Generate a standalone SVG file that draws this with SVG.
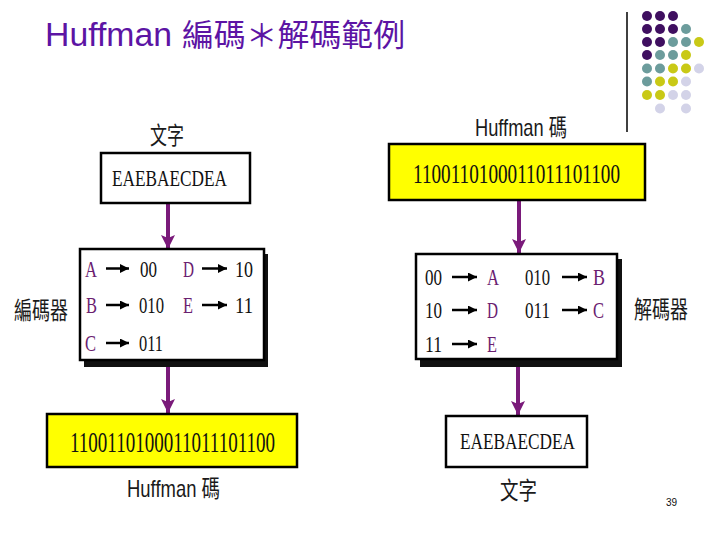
<svg xmlns="http://www.w3.org/2000/svg" width="720" height="540" viewBox="0 0 720 540">
<style>
.title{font-family:"Liberation Sans","Noto Sans CJK TC",sans-serif;fill:#5C14A4}
.lbl{font-family:"Liberation Sans","Noto Sans CJK TC",sans-serif;fill:#1a1a1a;font-size:24px}
.ser{font-family:"Liberation Serif","Noto Sans CJK TC",serif;fill:#111}
.pl{fill:#6A2070}
.box{fill:#fff;stroke:#000;stroke-width:2.5}
.ybox{fill:#FFFF00;stroke:#000;stroke-width:2.5}
.shadow{fill:#111}
.conn{stroke:#7A1A7A;stroke-width:4;fill:none}
.sarr{stroke:#000;stroke-width:2.5;fill:none}
.d1{fill:#3F0F60}.d2{fill:#6C9C9C}.d3{fill:#C9C916}.d4{fill:#D3D3E8}
</style>
<defs>
<marker id="big" markerUnits="userSpaceOnUse" markerWidth="14" markerHeight="14" viewBox="0 0 14 14" refX="14" refY="7" orient="auto">
<path d="M0,0 L14,7 L0,14 L3,7 z" fill="#7A1A7A"/>
</marker>
<marker id="sm" markerUnits="userSpaceOnUse" markerWidth="9" markerHeight="9" viewBox="0 0 9 9" refX="9" refY="4.5" orient="auto">
<path d="M0,0 L9,4.5 L0,9 z" fill="#000"/>
</marker>
</defs>
<rect width="720" height="540" fill="#fff"/>

<g id="title">
<text class="title" x="45" y="46" font-size="33" textLength="127" lengthAdjust="spacingAndGlyphs">Huffman</text>
<text class="title" x="182" y="46" font-size="31" textLength="223" lengthAdjust="spacingAndGlyphs">編碼＊解碼範例</text>
</g>

<g id="decor">
<line x1="627" y1="12" x2="627" y2="132" stroke="#000" stroke-width="1.5"/>
<circle class="d1" cx="647" cy="16" r="5"/><circle class="d1" cx="660" cy="16" r="5"/><circle class="d1" cx="673" cy="16" r="5"/>
<circle class="d1" cx="647" cy="29" r="5"/><circle class="d1" cx="660" cy="29" r="5"/><circle class="d1" cx="673" cy="29" r="5"/><circle class="d2" cx="686" cy="29" r="5"/>
<circle class="d1" cx="647" cy="42" r="5"/><circle class="d1" cx="660" cy="42" r="5"/><circle class="d2" cx="673" cy="42" r="5"/><circle class="d2" cx="686" cy="42" r="5"/><circle class="d3" cx="699" cy="42" r="5"/>
<circle class="d1" cx="647" cy="55" r="5"/><circle class="d2" cx="660" cy="55" r="5"/><circle class="d2" cx="673" cy="55" r="5"/><circle class="d3" cx="686" cy="55" r="5"/>
<circle class="d2" cx="647" cy="68.5" r="5"/><circle class="d2" cx="660" cy="68.5" r="5"/><circle class="d3" cx="673" cy="68.5" r="5"/><circle class="d3" cx="686" cy="68.5" r="5"/><circle class="d4" cx="699" cy="68.5" r="5"/>
<circle class="d2" cx="647" cy="81.5" r="5"/><circle class="d3" cx="660" cy="81.5" r="5"/><circle class="d3" cx="673" cy="81.5" r="5"/><circle class="d4" cx="686" cy="81.5" r="5"/>
<circle class="d3" cx="647" cy="95" r="5"/><circle class="d3" cx="660" cy="95" r="5"/><circle class="d4" cx="673" cy="95" r="5"/><circle class="d4" cx="686" cy="95" r="5"/>
<circle class="d4" cx="660" cy="108.5" r="5"/><circle class="d4" cx="686" cy="108.5" r="5"/>
</g>

<g id="connectors">
<line class="conn" x1="168" y1="203" x2="168" y2="249" marker-end="url(#big)"/>
<line class="conn" x1="168" y1="366" x2="168" y2="413" marker-end="url(#big)"/>
<line class="conn" x1="519" y1="200" x2="519" y2="253" marker-end="url(#big)"/>
<line class="conn" x1="518" y1="366" x2="518" y2="415" marker-end="url(#big)"/>
</g>

<g id="src-text">
<text class="lbl" x="150" y="144" textLength="34" lengthAdjust="spacingAndGlyphs">文字</text>
<rect class="box" x="101" y="153" width="149" height="50"/>
<text class="ser" x="112" y="186" font-size="23" textLength="115" lengthAdjust="spacingAndGlyphs">EAEBAECDEA</text>
</g>

<g id="encoder">
<rect class="shadow" x="84" y="254" width="184" height="113"/>
<rect class="box" x="80" y="249" width="184" height="111"/>
<text class="lbl" x="14" y="319" font-size="20" textLength="54" lengthAdjust="spacingAndGlyphs">編碼器</text>
<g class="ser" font-size="23">
<text class="pl" x="85" y="277" textLength="12" lengthAdjust="spacingAndGlyphs">A</text>
<text x="140" y="277" textLength="17" lengthAdjust="spacingAndGlyphs">00</text>
<text class="pl" x="183" y="277" textLength="11" lengthAdjust="spacingAndGlyphs">D</text>
<text x="235" y="277" textLength="18" lengthAdjust="spacingAndGlyphs">10</text>
<text class="pl" x="86" y="313" textLength="11" lengthAdjust="spacingAndGlyphs">B</text>
<text x="139" y="313" textLength="25" lengthAdjust="spacingAndGlyphs">010</text>
<text class="pl" x="183" y="313" textLength="10" lengthAdjust="spacingAndGlyphs">E</text>
<text x="235" y="313" textLength="18" lengthAdjust="spacingAndGlyphs">11</text>
<text class="pl" x="85" y="351" textLength="11" lengthAdjust="spacingAndGlyphs">C</text>
<text x="139" y="351" textLength="24" lengthAdjust="spacingAndGlyphs">011</text>
</g>
<line class="sarr" x1="106" y1="268.5" x2="129" y2="268.5" marker-end="url(#sm)"/>
<line class="sarr" x1="202" y1="268.5" x2="227" y2="268.5" marker-end="url(#sm)"/>
<line class="sarr" x1="106" y1="305" x2="129" y2="305" marker-end="url(#sm)"/>
<line class="sarr" x1="202" y1="305" x2="227" y2="305" marker-end="url(#sm)"/>
<line class="sarr" x1="106" y1="343" x2="129" y2="343" marker-end="url(#sm)"/>
</g>

<g id="code-left">
<rect class="ybox" x="47" y="414" width="250" height="53"/>
<text class="ser" x="70" y="452" font-size="29" textLength="205" lengthAdjust="spacingAndGlyphs">1100110100011011101100</text>
<text class="lbl" x="127" y="497" font-size="25" textLength="93" lengthAdjust="spacingAndGlyphs">Huffman 碼</text>
</g>

<g id="code-right">
<text class="lbl" x="475" y="136" textLength="92" lengthAdjust="spacingAndGlyphs">Huffman 碼</text>
<rect class="ybox" x="389" y="144" width="256" height="56"/>
<text class="ser" x="413" y="183" font-size="28" textLength="207" lengthAdjust="spacingAndGlyphs">1100110100011011101100</text>
</g>

<g id="decoder">
<rect class="shadow" x="420" y="259" width="202" height="108"/>
<rect class="box" x="416" y="254" width="201" height="105"/>
<text class="lbl" x="634" y="318" font-size="20" textLength="54" lengthAdjust="spacingAndGlyphs">解碼器</text>
<g class="ser" font-size="23">
<text x="425" y="285" textLength="17" lengthAdjust="spacingAndGlyphs">00</text>
<text class="pl" x="487" y="285" textLength="12" lengthAdjust="spacingAndGlyphs">A</text>
<text x="525" y="285" textLength="25" lengthAdjust="spacingAndGlyphs">010</text>
<text class="pl" x="593" y="285" textLength="12" lengthAdjust="spacingAndGlyphs">B</text>
<text x="425" y="318" textLength="17" lengthAdjust="spacingAndGlyphs">10</text>
<text class="pl" x="487" y="318" textLength="11" lengthAdjust="spacingAndGlyphs">D</text>
<text x="525" y="318" textLength="25" lengthAdjust="spacingAndGlyphs">011</text>
<text class="pl" x="593" y="318" textLength="11" lengthAdjust="spacingAndGlyphs">C</text>
<text x="425" y="352" textLength="17" lengthAdjust="spacingAndGlyphs">11</text>
<text class="pl" x="487" y="352" textLength="10" lengthAdjust="spacingAndGlyphs">E</text>
</g>
<line class="sarr" x1="452" y1="277" x2="477" y2="277" marker-end="url(#sm)"/>
<line class="sarr" x1="562" y1="277" x2="587" y2="277" marker-end="url(#sm)"/>
<line class="sarr" x1="452" y1="310" x2="477" y2="310" marker-end="url(#sm)"/>
<line class="sarr" x1="562" y1="310" x2="587" y2="310" marker-end="url(#sm)"/>
<line class="sarr" x1="452" y1="344" x2="477" y2="344" marker-end="url(#sm)"/>
</g>

<g id="out-text">
<rect class="box" x="446" y="416" width="141" height="51"/>
<text class="ser" x="460" y="449" font-size="23" textLength="115" lengthAdjust="spacingAndGlyphs">EAEBAECDEA</text>
<text class="lbl" x="500" y="499" textLength="37" lengthAdjust="spacingAndGlyphs">文字</text>
</g>

<text x="666" y="506" font-family="Liberation Sans, sans-serif" font-size="10" fill="#111">39</text>
</svg>
